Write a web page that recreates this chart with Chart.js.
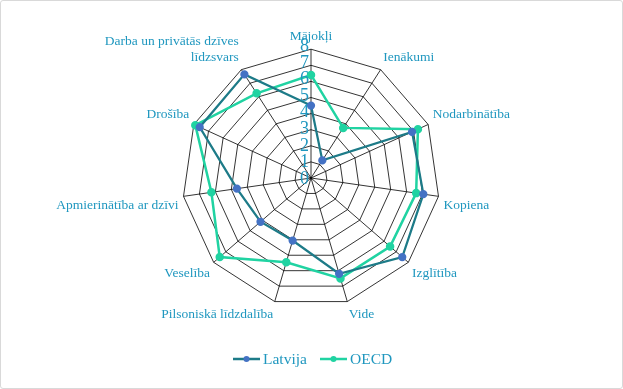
<!DOCTYPE html>
<html>
<head>
<meta charset="utf-8">
<script src="https://cdn.jsdelivr.net/npm/chart.js@4"></script>
<style>
    body { margin: 0; background: #fff; }
    #wrap {
        position: absolute; left: 0; top: 0;
        width: 623px; height: 389px;
        box-sizing: border-box;
        border: 1px solid #d9d9d9;
        border-radius: 3px;
    }
    canvas { display: block; }
</style>
</head>
<body>
<div id="wrap"><canvas id="radarChart" width="621" height="387"></canvas></div>
<script>
const categories = [
    'Mājokļi', 'Ienākumi', 'Nodarbinātība', 'Kopiena', 'Izglītība', 'Vide',
    'Pilsoniskā līdzdalība', 'Veselība', 'Apmierinātība ar dzīvi', 'Drošība',
    ['Darba un privātās dzīves', 'līdzsvars']
];
const latvija = [4.5, 1.3, 6.9, 7.05, 7.5, 6.2, 4.05, 4.15, 4.65, 7.6, 7.65];
const oecd = [6.4, 3.7, 7.3, 6.6, 6.5, 6.5, 5.45, 7.5, 6.25, 7.9, 6.25];
const tickValues = [0, 1, 2, 3, 4, 5, 6, 7, 8];

const labelColor = '#1f97bf';
const serif = '"Liberation Serif", "DejaVu Serif", serif';

// tick numbers sit left of the vertical axis, so draw them by hand
const tickLabels = {
    id: 'tickLabels',
    afterDatasetsDraw(chart) {
        const scale = chart.scales.r;
        const c = chart.ctx;
        c.save();
        c.font = '18px ' + serif;
        c.fillStyle = labelColor;
        c.textAlign = 'right';
        c.textBaseline = 'middle';
        tickValues.forEach(v => {
            const y = scale.yCenter - scale.getDistanceFromCenterForValue(v);
            c.fillText(String(v), scale.xCenter - 2, y - v * 0.5 + 1);
        });
        c.restore();
    }
};

// legend: line with a dot in the middle, like the office chart
const lineLegend = {
    id: 'lineLegend',
    afterDraw(chart) {
        const c = chart.ctx;
        const y = 358;
        const items = [
            { text: 'Latvija', line: '#1d7b88', dot: '#4472c4', x: 232 },
            { text: 'OECD', line: '#20d3a2', dot: '#20d3a2', x: 319 }
        ];
        c.save();
        c.font = '15.5px ' + serif;
        c.textBaseline = 'middle';
        items.forEach(it => {
            c.strokeStyle = it.line;
            c.lineWidth = 2.5;
            c.beginPath();
            c.moveTo(it.x, y);
            c.lineTo(it.x + 27, y);
            c.stroke();
            c.fillStyle = it.dot;
            c.beginPath();
            c.arc(it.x + 13.5, y, 3, 0, Math.PI * 2);
            c.fill();
            c.fillStyle = labelColor;
            c.fillText(it.text, it.x + 30, y + 1);
        });
        c.restore();
    }
};

new Chart(document.getElementById('radarChart'), {
    type: 'radar',
    data: {
        labels: categories,
        datasets: [
            {
                label: 'Latvija',
                data: latvija,
                borderColor: '#1d7b88',
                backgroundColor: '#4472c4',
                pointBackgroundColor: '#4472c4',
                pointBorderColor: '#4472c4',
                borderWidth: 2.25,
                pointRadius: 3,
                fill: false,
                order: 1
            },
            {
                label: 'OECD',
                data: oecd,
                borderColor: '#20d3a2',
                backgroundColor: '#20d3a2',
                pointBackgroundColor: '#20d3a2',
                pointBorderColor: '#20d3a2',
                borderWidth: 2.5,
                pointRadius: 3,
                fill: false,
                order: 2
            }
        ]
    },
    options: {
        responsive: false,
        animation: false,
        layout: {
            padding: { top: 24, bottom: 62, left: 0, right: 0 }
        },
        plugins: {
            legend: { display: false },
            tooltip: { enabled: false }
        },
        scales: {
            r: {
                min: 0,
                max: 8,
                ticks: {
                    stepSize: 1,
                    display: false
                },
                grid: {
                    color: '#000',
                    lineWidth: 0.8
                },
                angleLines: {
                    color: '#000',
                    lineWidth: 0.8
                },
                pointLabels: {
                    color: labelColor,
                    padding: 5,
                    font: { family: serif, size: 13.5 }
                }
            }
        }
    },
    plugins: [tickLabels, lineLegend]
});
</script>
</body>
</html>
